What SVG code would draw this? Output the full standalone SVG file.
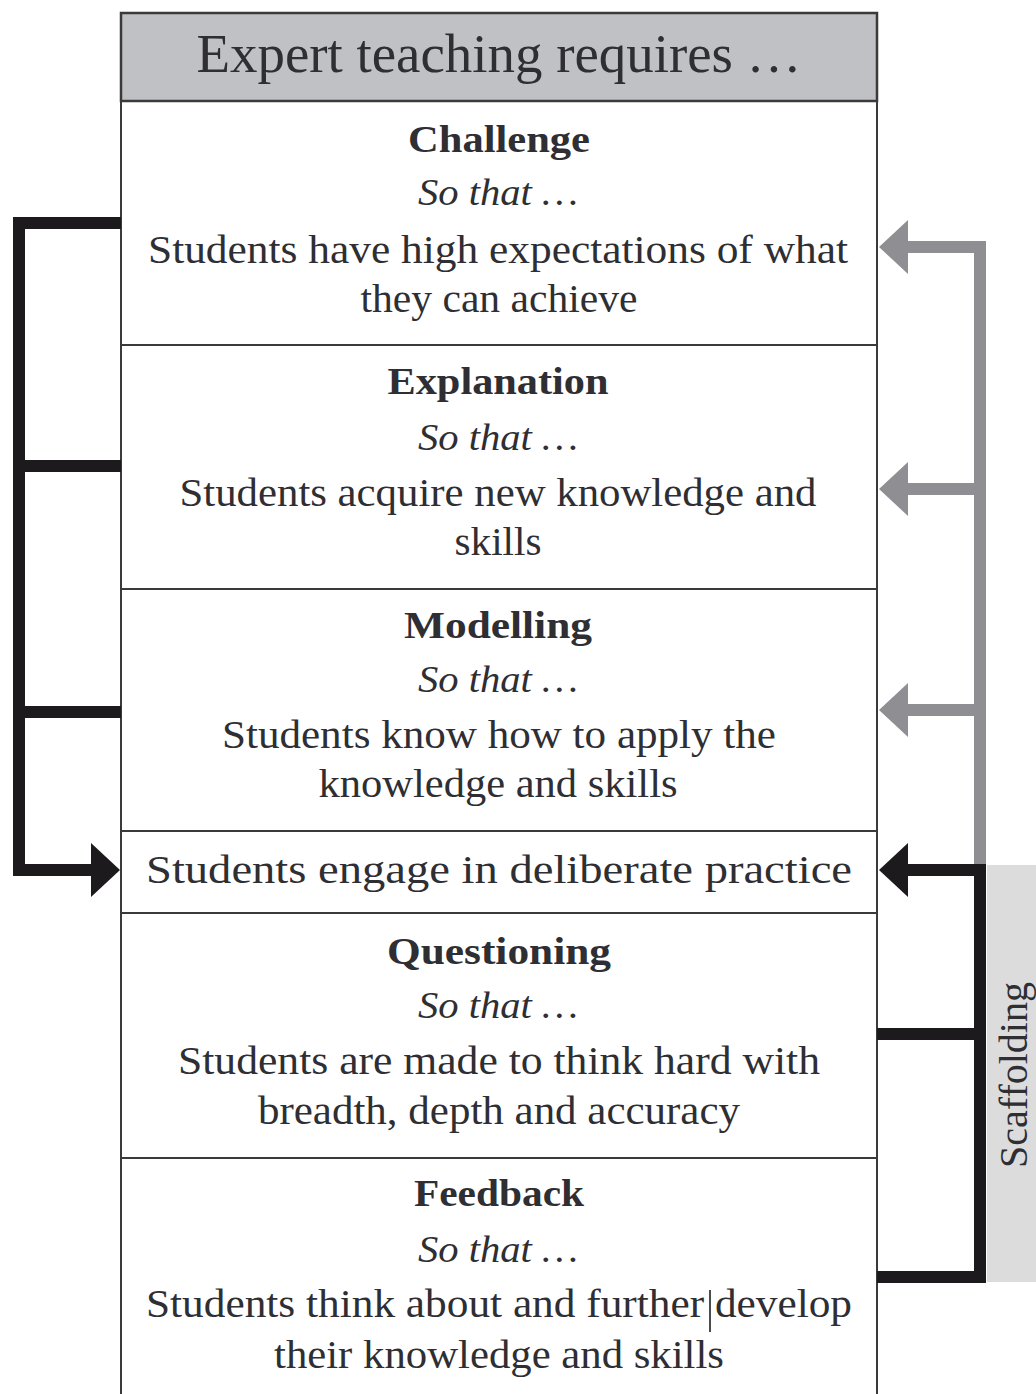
<svg xmlns="http://www.w3.org/2000/svg" width="1036" height="1394" viewBox="0 0 1036 1394">
<style>
.t{font-family:"Liberation Serif","Times New Roman",serif;fill:#2e2e33;text-anchor:middle;font-size:40px}
.b{font-weight:bold;font-size:38px}
.i{font-style:italic;font-size:38px}
.h{font-size:54px}
.div{stroke:#3a3a3a;stroke-width:2;fill:none}
.blk{stroke:#1c1a1c;stroke-width:12;fill:none}
.gry{stroke:#8f8f93;stroke-width:12;fill:none}
</style>
<defs>
<marker id="ab" viewBox="0 0 29 54" refX="0" refY="27" markerWidth="29" markerHeight="54" markerUnits="userSpaceOnUse" orient="auto"><polygon points="0,0 29,27 0,54" fill="#1c1a1c"/></marker>
<marker id="ag" viewBox="0 0 29 54" refX="0" refY="27" markerWidth="29" markerHeight="54" markerUnits="userSpaceOnUse" orient="auto"><polygon points="0,0 29,27 0,54" fill="#8f8f93"/></marker>
</defs>
<rect width="1036" height="1394" fill="#ffffff"/>
<rect x="987" y="865" width="49" height="417" fill="#dcdcdc"/>
<text class="t" transform="translate(1027,1075) rotate(-90)">Scaffolding</text>

<g id="header"><rect x="121" y="13" width="756" height="88" fill="#c0c1c5" stroke="#3a3a3a" stroke-width="2.5"/>
<text class="t h" x="499" y="72" textLength="605" lengthAdjust="spacingAndGlyphs">Expert teaching requires …</text></g>

<g id="challenge"><rect x="121" y="101" width="756" height="244" fill="#fff" class="div"/>
<text class="t b" x="499" y="152" textLength="182" lengthAdjust="spacingAndGlyphs">Challenge</text>
<text class="t i" x="498" y="205" textLength="160" lengthAdjust="spacingAndGlyphs">So that …</text>
<text class="t" x="498" y="263" textLength="700" lengthAdjust="spacingAndGlyphs">Students have high expectations of  what</text>
<text class="t" x="499" y="312" textLength="277" lengthAdjust="spacingAndGlyphs">they can achieve</text></g>

<g id="explanation"><rect x="121" y="345" width="756" height="244" fill="#fff" class="div"/>
<text class="t b" x="498" y="394" textLength="221" lengthAdjust="spacingAndGlyphs">Explanation</text>
<text class="t i" x="498" y="450" textLength="160" lengthAdjust="spacingAndGlyphs">So that …</text>
<text class="t" x="498" y="506" textLength="637" lengthAdjust="spacingAndGlyphs">Students acquire new knowledge and</text>
<text class="t" x="498" y="555" textLength="87" lengthAdjust="spacingAndGlyphs">skills</text></g>

<g id="modelling"><rect x="121" y="589" width="756" height="242" fill="#fff" class="div"/>
<text class="t b" x="498" y="638" textLength="188" lengthAdjust="spacingAndGlyphs">Modelling</text>
<text class="t i" x="498" y="692" textLength="160" lengthAdjust="spacingAndGlyphs">So that …</text>
<text class="t" x="499" y="748" textLength="554" lengthAdjust="spacingAndGlyphs">Students know how to apply the</text>
<text class="t" x="498" y="797" textLength="359" lengthAdjust="spacingAndGlyphs">knowledge and skills</text></g>

<g id="practice"><rect x="121" y="831" width="756" height="82" fill="#dcdcdc" class="div"/>
<text class="t" x="499" y="883" textLength="706" lengthAdjust="spacingAndGlyphs">Students engage in deliberate practice</text></g>

<g id="questioning"><rect x="121" y="913" width="756" height="245" fill="#fff" class="div"/>
<text class="t b" x="499" y="964" textLength="224" lengthAdjust="spacingAndGlyphs">Questioning</text>
<text class="t i" x="498" y="1018" textLength="160" lengthAdjust="spacingAndGlyphs">So that …</text>
<text class="t" x="499" y="1074" textLength="642" lengthAdjust="spacingAndGlyphs">Students are made to think hard with</text>
<text class="t" x="499" y="1124" textLength="482" lengthAdjust="spacingAndGlyphs">breadth, depth and accuracy</text></g>

<g id="feedback"><rect x="121" y="1158" width="756" height="240" fill="#fff" class="div"/>
<text class="t b" x="499" y="1206" textLength="170" lengthAdjust="spacingAndGlyphs">Feedback</text>
<text class="t i" x="498" y="1262" textLength="160" lengthAdjust="spacingAndGlyphs">So that …</text>
<text class="t" x="499" y="1317" textLength="706" lengthAdjust="spacingAndGlyphs">Students think about and further develop</text>
<text class="t" x="499" y="1368" textLength="450" lengthAdjust="spacingAndGlyphs">their knowledge and skills</text>
<line x1="710" y1="1290" x2="710" y2="1332" stroke="#111" stroke-width="1.5"/></g>

<g id="connectors">
<path class="blk" d="M19,217 V876"/>
<path class="blk" d="M13,223 H121"/>
<path class="blk" d="M19,466 H121"/>
<path class="blk" d="M19,712 H121"/>
<path class="blk" d="M13,870 H91" marker-end="url(#ab)"/>
<path class="gry" d="M980,241 V866"/>
<path class="gry" d="M986,247 H908" marker-end="url(#ag)"/>
<path class="gry" d="M980,489 H908" marker-end="url(#ag)"/>
<path class="gry" d="M980,710 H908" marker-end="url(#ag)"/>
<path class="blk" d="M980,864 V1283"/>
<path class="blk" d="M986,870 H908" marker-end="url(#ab)"/>
<path class="blk" d="M980,1034 H877"/>
<path class="blk" d="M986,1277 H877"/>
</g>
</svg>
